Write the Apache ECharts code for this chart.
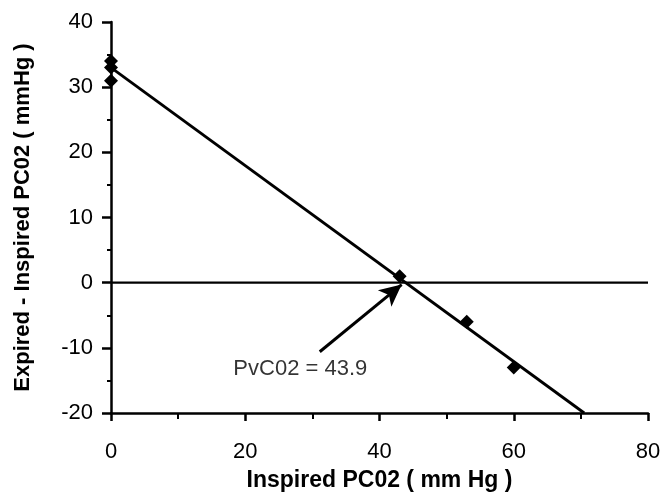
<!DOCTYPE html>
<html><head><meta charset="utf-8">
<script src="https://cdn.jsdelivr.net/npm/echarts@6/dist/echarts.min.js"></script>
</head>
<body style="margin:0;background:#fff">
<div id="c" style="width:661px;height:492px"></div>
<script>
// Data
const pointsX = [0, 0, 0, 43, 53, 60];
const pointsY = [34, 33, 31, 1, -6, -13];
const fitX = [0, 70.5];
const fitY = [33, -20];
const zeroX = [0, 80];
const zeroY = [0, 0];
const arrowFrom = [31.1, -10.6];
const arrowTo = [43.3, -0.3];
const noteText = 'PvC02 = 43.9';
const notePos = [28.2, -13.2];
const xTitle = 'Inspired PC02 ( mm Hg )';
const yTitle = 'Expired - Inspired PC02 ( mmHg )';

const FONT = 'Liberation Sans';
const chart = echarts.init(document.getElementById('c'));
chart.setOption({
  animation: false,
  backgroundColor: '#fff',
  grid: { left: 111, right: 13, top: 22, bottom: 79, containLabel: false, outerBoundsMode: 'none' },
  xAxis: {
    type: 'value', min: 0, max: 80, interval: 20,
    name: xTitle, nameLocation: 'middle', nameGap: 56,
    nameTextStyle: { fontFamily: FONT, fontWeight: 'bold', fontSize: 23, color: '#000' },
    axisLine: { onZero: false, lineStyle: { color: '#000', width: 2.5 } },
    axisTick: { show: true, inside: false, length: 8, lineStyle: { color: '#000', width: 2.5 } },
    minorTick: { show: true, splitNumber: 2, length: 6, lineStyle: { color: '#000', width: 2 } },
    axisLabel: { margin: 28, fontFamily: FONT, fontSize: 22, color: '#000' },
    splitLine: { show: false }
  },
  yAxis: {
    type: 'value', min: -20, max: 40, interval: 10,
    name: yTitle, nameLocation: 'middle', nameGap: 77,
    nameTextStyle: { fontFamily: FONT, fontWeight: 'bold', fontSize: 22, color: '#000' },
    axisLine: { onZero: false, lineStyle: { color: '#000', width: 2.5 } },
    axisTick: { show: true, inside: false, length: 9, lineStyle: { color: '#000', width: 2.5 } },
    minorTick: { show: true, splitNumber: 2, length: 4, lineStyle: { color: '#000', width: 2 } },
    axisLabel: { margin: 18, fontFamily: FONT, fontSize: 22, color: '#000' },
    splitLine: { show: false }
  },
  series: [
    {
      type: 'line', data: zeroX.map((x, i) => [x, zeroY[i]]),
      showSymbol: false, symbol: 'none',
      lineStyle: { color: '#000', width: 2.2 }, z: 2,
      markLine: {
        silent: true, symbol: ['none', 'arrow'], symbolSize: [16, 22],
        lineStyle: { color: '#000', width: 3, type: 'solid' },
        label: { show: false },
        data: [[{ coord: arrowFrom }, { coord: arrowTo }]]
      }
    },
    {
      type: 'line', data: fitX.map((x, i) => [x, fitY[i]]),
      showSymbol: false, symbol: 'none',
      lineStyle: { color: '#000', width: 2.8 }, z: 3
    },
    {
      type: 'scatter', data: pointsX.map((x, i) => [x, pointsY[i]]),
      symbol: 'diamond', symbolSize: 14,
      itemStyle: { color: '#000', opacity: 1 }, z: 4
    },
    {
      type: 'scatter', data: [notePos], symbolSize: 0,
      label: { show: true, position: 'inside', formatter: noteText,
        fontFamily: FONT, fontSize: 22, color: '#000', textBorderWidth: 0 },
      z: 5
    }
  ]
});
</script>
</body></html>
